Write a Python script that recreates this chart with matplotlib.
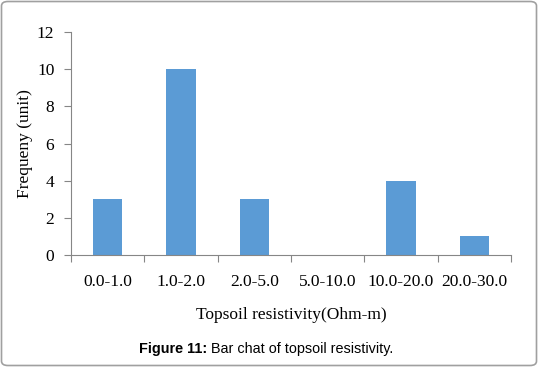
import matplotlib
matplotlib.use("Agg")
import matplotlib.pyplot as plt
from matplotlib.patches import FancyBboxPatch

categories = ["0.0-1.0", "1.0-2.0", "2.0-5.0", "5.0-10.0", "10.0-20.0", "20.0-30.0"]
frequency = [3, 10, 3, 0, 4, 1]
yticks = [0, 2, 4, 6, 8, 10, 12]

fig = plt.figure(figsize=(5.38, 3.67), dpi=100)
ax = fig.add_axes([71/538, 1-255/367, (511-71)/538, (255-32)/367])

x = list(range(len(categories)))
ax.bar(x, frequency, width=0.4, color="#5B9BD5")
ax.set_xlim(-0.5, len(categories)-0.5)
ax.set_ylim(0, 12)
ax.set_yticks(yticks)
ax.set_yticklabels([str(v) for v in yticks], fontfamily="Liberation Serif", fontsize=12.5)
ax.set_xticks(x)
ax.set_xticklabels(categories, fontfamily="Liberation Serif", fontsize=12.5)
ax.tick_params(axis="x", length=0, pad=14)
ax.set_xticks([i - 0.5 for i in range(len(categories)+1)], minor=True)
ax.tick_params(axis="x", which="minor", length=5, color="#868686", width=0.8)
ax.tick_params(axis="y", length=5, color="#868686", width=0.8, pad=7)
for s in ["top", "right"]:
    ax.spines[s].set_visible(False)
for s in ["left", "bottom"]:
    ax.spines[s].set_color("#868686")
    ax.spines[s].set_linewidth(0.8)

ax.set_ylabel("Frequeny (unit)", fontfamily="Liberation Serif", fontsize=12.5, labelpad=3)
ax.set_xlabel("Topsoil resistivity(Ohm-m)", fontfamily="Liberation Serif", fontsize=12.5, labelpad=12)

fig.text(207/538, 1-349/367, "Figure 11:", ha="right", va="center", fontsize=10.4,
         fontfamily="Liberation Sans", fontweight="bold")
fig.text(207/538, 1-349/367, " Bar chat of topsoil resistivity.", ha="left", va="center", fontsize=10.4,
         fontfamily="Liberation Sans")

border = FancyBboxPatch((1.5/538, 1.5/367), 535/538, 364/367,
                        boxstyle="round,pad=0,rounding_size=0.012",
                        transform=fig.transFigure, fill=False, edgecolor="#a0a0a0", linewidth=1.2)
fig.patches.append(border)

fig.savefig("out.png", dpi=100)
